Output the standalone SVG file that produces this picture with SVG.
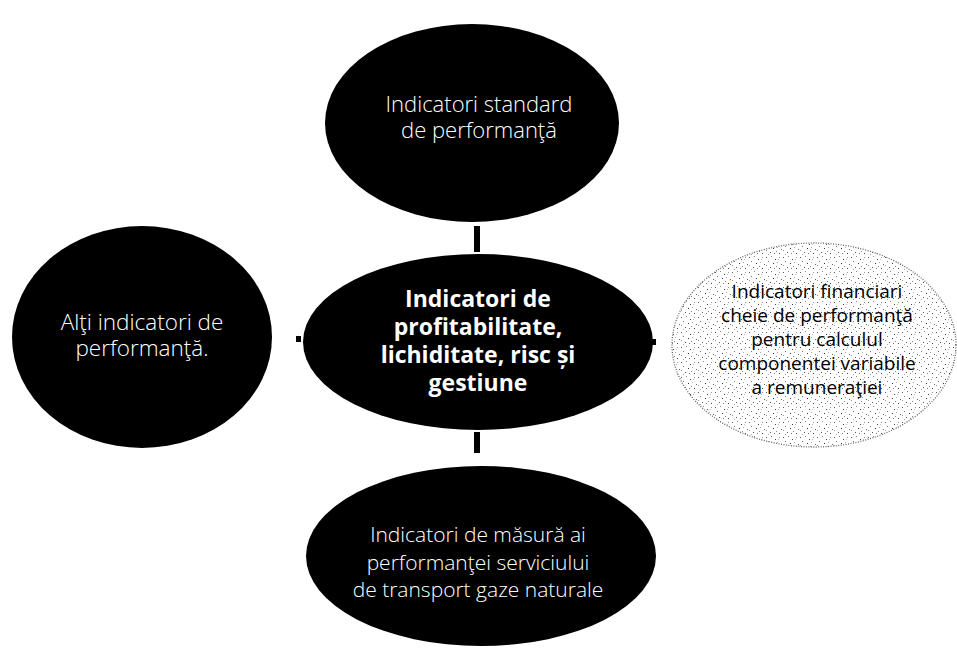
<svg xmlns="http://www.w3.org/2000/svg" width="957" height="654" viewBox="0 0 957 654">
<style>
.node{fill:#000}
.t{font-family:"Open Sans","DejaVu Sans",sans-serif;fill:#fff;text-anchor:middle;font-size:20px;font-weight:300}
.b{font-weight:bold;font-size:23px}
.d{fill:#000;font-size:19px;font-family:"Open Sans","DejaVu Sans",sans-serif;text-anchor:middle}
.bar{fill:#000}
</style>
<defs>
<pattern id="dots" width="17" height="15" patternUnits="userSpaceOnUse">
<rect width="17" height="15" fill="#fff"/>
<rect x="1" y="2" width="1" height="1" fill="#555"/>
<rect x="6" y="1" width="1" height="1" fill="#888"/>
<rect x="10" y="4" width="1" height="1" fill="#444"/>
<rect x="14" y="2" width="1" height="1" fill="#999"/>
<rect x="3" y="6" width="1" height="1" fill="#777"/>
<rect x="8" y="8" width="1" height="1" fill="#333"/>
<rect x="12" y="7" width="1" height="1" fill="#aaa"/>
<rect x="16" y="9" width="1" height="1" fill="#666"/>
<rect x="1" y="10" width="1" height="1" fill="#999"/>
<rect x="5" y="12" width="1" height="1" fill="#555"/>
<rect x="11" y="11" width="1" height="1" fill="#888"/>
<rect x="14" y="13" width="1" height="1" fill="#444"/>
<rect x="3" y="14" width="1" height="1" fill="#aaa"/>
<rect x="9" y="13" width="1" height="1" fill="#777"/>
<rect x="13" y="4" width="1" height="1" fill="#bbb"/>
</pattern>
</defs>
<g id="connectors">
<rect class="bar" x="474" y="226" width="6" height="26"/>
<rect class="bar" x="474" y="432" width="6" height="21"/>
<rect class="bar" x="296" y="336" width="5" height="6"/>
<rect class="bar" x="651" y="339" width="5" height="6"/>
</g>
<g id="node-top">
<ellipse class="node" cx="472" cy="123" rx="147" ry="99"/>
<text class="t" x="479" y="112" style="font-size:22px">Indicatori standard</text>
<text class="t" x="479" y="138" style="font-size:22px">de performanţă</text>
</g>
<g id="node-center">
<ellipse class="node" cx="478" cy="342" rx="175" ry="88"/>
<text class="t b" x="478" y="307">Indicatori de</text>
<text class="t b" x="478" y="335">profitabilitate,</text>
<text class="t b" x="478" y="363">lichiditate, risc și</text>
<text class="t b" x="478" y="391">gestiune</text>
</g>
<g id="node-left">
<ellipse class="node" cx="142" cy="337" rx="130" ry="111"/>
<text class="t" x="142" y="330" style="font-size:22.5px">Alţi indicatori de</text>
<text class="t" x="142" y="356" style="font-size:22.5px">performanţă.</text>
</g>
<g id="node-right">
<ellipse cx="814" cy="345" rx="142" ry="102" fill="url(#dots)" stroke="#666" stroke-width="1.3" stroke-dasharray="1 1.5"/>
<text class="d" x="817" y="298">Indicatori financiari</text>
<text class="d" x="817" y="322">cheie de performanţă</text>
<text class="d" x="817" y="346">pentru calculul</text>
<text class="d" x="817" y="370">componentei variabile</text>
<text class="d" x="817" y="394">a remuneraţiei</text>
</g>
<g id="node-bottom">
<ellipse class="node" cx="481" cy="556" rx="175" ry="90"/>
<text class="t" x="478" y="542" style="font-size:21px">Indicatori de măsură ai</text>
<text class="t" x="478" y="570" style="font-size:21px">performanţei serviciului</text>
<text class="t" x="478" y="597" style="font-size:21px">de transport gaze naturale</text>
</g>
</svg>
